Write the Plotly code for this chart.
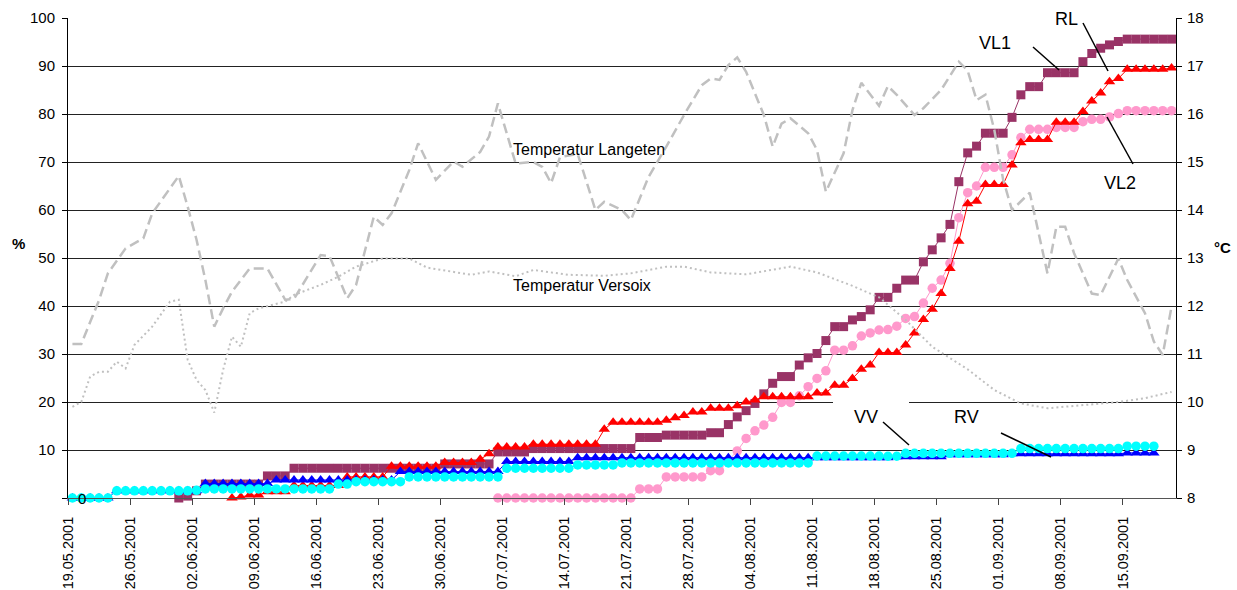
import plotly.graph_objects as go
import pandas as pd

N = None

# ---- categories: one value per day, 19.05.2001 ... 20.09.2001 (125 days) ----
days = pd.date_range("2001-05-19 12:00", periods=125, freq="D")

# ---- cumulative series (%), one value per day ----
vl1 = [
    N, N, N, N, N, N, N, N, N, N,
    N, N, 0, 0.4, 1.5, 2.9, 2.9, 2.9, 2.9, 2.9,
    2.9, 2.9, 4.6, 4.6, 4.6, 6.2, 6.2, 6.2, 6.2, 6.2,
    6.2, 6.2, 6.2, 6.2, 6.2, 6.2, 6.2, 6.2, 6.2, 6.2,
    6.2, 6.2, 7.1, 7.1, 7.1, 7.1, 7.1, 7.1, 9.6, 9.6,
    9.6, 9.6, 10.3, 10.3, 10.3, 10.3, 10.3, 10.3, 10.3, 10.3,
    10.3, 10.3, 10.3, 10.3, 12.6, 12.6, 12.6, 13.1, 13.1, 13.1,
    13.1, 13.1, 13.6, 13.6, 15.3, 16.9, 18.2, 19.7, 21.7, 23.9,
    25.3, 25.3, 27.7, 29.2, 30.1, 32.8, 35.7, 35.7, 37.1, 37.8,
    39.2, 41.8, 41.8, 43.7, 45.4, 45.4, 49.2, 51.7, 54.2, 57.0,
    65.9, 71.9, 73.3, 76.0, 76.0, 76.0, 79.3, 84.0, 85.7, 85.7,
    88.6, 88.6, 88.6, 88.6, 90.9, 92.6, 93.7, 94.4, 95.1, 95.6,
    95.6, 95.6, 95.6, 95.6, 95.6,
]
vl2 = [
    N, N, N, N, N, N, N, N, N, N,
    N, N, N, N, N, N, N, N, N, N,
    N, N, N, N, N, N, N, N, N, N,
    N, N, N, N, N, N, N, N, N, N,
    N, N, N, N, N, N, N, N, 0, 0,
    0, 0, 0, 0, 0, 0, 0, 0, 0, 0,
    0, 0, 0, 0, 1.9, 1.9, 1.9, 4.4, 4.4, 4.4,
    4.4, 4.4, 5.7, 5.7, 7.8, 9.8, 12.4, 14.0, 15.2, 16.8,
    19.9, 19.9, 21.3, 23.2, 24.9, 26.5, 30.8, 30.8, 31.7, 33.75,
    34.4, 35.0, 35.1, 35.8, 37.4, 37.8, 40.6, 43.7, 45.4, 48.9,
    58.4, 63.6, 65.0, 68.9, 68.9, 68.9, 71.5, 75.1, 76.8, 76.8,
    76.8, 77.2, 77.2, 77.2, 78.4, 78.9, 78.9, 79.4, 80.1, 80.7,
    80.7, 80.7, 80.7, 80.7, 80.7,
]
rl = [
    N, N, N, N, N, N, N, N, N, N,
    N, N, N, N, N, N, N, N, 0, 0.2,
    0.6, 0.6, 1.3, 1.3, 1.3, 2.6, 2.6, 2.6, 2.6, 2.6,
    2.6, 4.4, 4.4, 4.4, 4.4, 4.4, 6.6, 6.6, 6.6, 6.6,
    6.6, 6.6, 7.4, 7.4, 7.4, 7.4, 8.05, 9.2, 10.6, 10.6,
    10.6, 10.6, 11.2, 11.2, 11.2, 11.2, 11.2, 11.2, 11.2, 11.2,
    14.3, 15.8, 15.8, 15.8, 15.8, 15.8, 15.8, 16.2, 16.7, 17.2,
    17.9, 17.9, 18.7, 18.7, 18.7, 19.2, 20.0, 20.4, 21.1, 21.1,
    21.1, 21.1, 21.1, 21.1, 21.9, 21.9, 23.5, 23.5, 24.9, 26.8,
    27.7, 30.3, 30.3, 30.3, 31.9, 34.4, 37.2, 39.3, 42.6, 47.8,
    53.5, 61.3, 61.8, 65.3, 65.3, 65.3, 69.4, 74.0, 74.7, 74.7,
    74.7, 78.3, 78.3, 78.3, 80.5, 82.7, 84.4, 86.7, 87.4, 89.3,
    89.3, 89.3, 89.3, 89.3, 89.6,
]
rv = [
    0, 0, 0, 0, 0, 1.5, 1.5, 1.5, 1.5, 1.5,
    1.5, 1.5, 1.5, 1.5, 1.5, 3.0, 3.0, 3.0, 3.0, 3.0,
    3.0, 3.0, 3.0, 3.75, 3.75, 3.75, 3.75, 3.75, 3.75, 3.75,
    3.75, 3.75, 3.75, 3.75, 3.75, 3.75, 3.75, 5.5, 5.5, 5.5,
    5.5, 5.5, 5.5, 5.5, 5.5, 5.5, 5.5, 5.5, 5.5, 7.6,
    7.6, 7.6, 7.6, 7.6, 7.6, 7.6, 7.6, 8.4, 8.4, 8.4,
    8.4, 8.4, 8.4, 8.4, 8.4, 8.4, 8.4, 8.4, 8.4, 8.4,
    8.4, 8.4, 8.4, 8.4, 8.4, 8.4, 8.4, 8.4, 8.4, 8.4,
    8.4, 8.4, 8.4, 8.4, 8.4, 8.4, 8.4, 8.4, 8.4, 8.4,
    8.4, 8.4, 8.4, 8.6, 8.6, 8.6, 8.6, 8.6, 8.6, 9.0,
    9.0, 9.0, 9.0, 9.0, 9.0, 9.0, 9.2, 9.2, 9.2, 9.2,
    9.2, 9.2, 9.2, 9.2, 9.2, 9.2, 9.2, 9.2, 9.2, 9.4,
    9.4, 9.4, 9.4, N, N,
]
vv = [
    0, 0, 0, 0, 0, 1.5, 1.5, 1.5, 1.5, 1.5,
    1.5, 1.5, 1.5, 1.5, 1.6, 1.9, 1.9, 1.9, 1.9, 1.9,
    1.9, 1.9, 1.9, 1.9, 1.9, 1.9, 1.9, 1.9, 1.9, 1.9,
    2.9, 2.9, 3.4, 3.4, 3.4, 3.4, 3.4, 3.4, 4.4, 4.4,
    4.4, 4.4, 4.4, 4.4, 4.4, 4.4, 4.4, 4.4, 4.4, 6.2,
    6.2, 6.2, 6.2, 6.2, 6.2, 6.2, 6.2, 6.9, 6.9, 6.9,
    6.9, 6.9, 7.3, 7.3, 7.3, 7.3, 7.3, 7.3, 7.3, 7.3,
    7.3, 7.3, 7.3, 7.3, 7.3, 7.3, 7.3, 7.3, 7.3, 7.3,
    7.3, 7.3, 7.3, 7.3, 8.75, 8.75, 8.75, 8.75, 8.75, 8.75,
    8.75, 8.75, 8.7, 8.7, 9.3, 9.3, 9.3, 9.3, 9.3, 9.3,
    9.3, 9.3, 9.3, 9.3, 9.3, 9.3, 9.3, 10.3, 10.3, 10.3,
    10.3, 10.3, 10.3, 10.3, 10.3, 10.3, 10.3, 10.3, 10.3, 10.8,
    10.8, 10.8, 10.8, N, N,
]

# ---- temperatures (°C, right axis): day index -> value ----
lang_day = [0, 1, 3, 4, 6, 8, 9, 12, 13, 14, 15, 16, 17, 18, 20, 22, 24, 25, 28, 29,
            31, 32, 34, 35, 36, 38, 39, 41, 43, 44, 46, 47, 48, 50, 52, 53, 54, 55, 57, 59,
            60, 62, 63, 65, 67, 69, 71, 72, 73, 74, 75, 76, 78, 79, 80, 81, 83, 84, 85, 87,
            88, 89, 91, 92, 93, 95, 96, 98, 100, 101, 102, 103, 104, 105, 106, 108, 110, 111, 112, 113,
            115, 116, 118, 119, 121, 122, 123, 124]
lang_t = [11.21, 11.21, 12.12, 12.68, 13.2, 13.41, 13.93, 14.71, 14.07, 13.38, 12.54, 11.57, 11.95, 12.3, 12.78, 12.78, 12.13, 12.15, 13.06, 13.04,
          12.16, 12.44, 13.86, 13.69, 13.93, 14.83, 15.39, 14.63, 15.01, 14.9, 15.21, 15.53, 16.22, 14.97, 15.0, 14.9, 14.56, 15.1, 15.17, 14.0,
          14.17, 14.0, 13.79, 14.69, 15.32, 15.98, 16.6, 16.74, 16.71, 17.02, 17.18, 16.88, 15.98, 15.32, 15.8, 15.91, 15.6, 15.25, 14.38, 15.18,
          16.08, 16.65, 16.17, 16.58, 16.4, 15.98, 16.12, 16.5, 17.09, 16.9, 16.29, 16.4, 15.67, 14.63, 14.0, 14.36, 12.68, 13.65, 13.65, 13.1,
          12.26, 12.23, 12.99, 12.54, 11.85, 11.26, 10.98, 11.99]
vers_day = [0, 1, 2, 3, 4, 5, 6, 7, 9, 11, 12, 13, 14, 15, 16, 17, 18, 19, 20, 21,
            24, 25, 28, 30, 32, 35, 38, 40, 45, 47, 50, 52, 56, 60, 63, 67, 69, 72, 76, 81,
            84, 88, 91, 94, 97, 101, 104, 107, 110, 114, 118, 121, 124]
vers_t = [9.9, 10.0, 10.53, 10.63, 10.63, 10.84, 10.7, 11.19, 11.57, 12.09, 12.13, 10.88, 10.46, 10.25, 9.78, 10.67, 11.36, 11.15, 11.85, 11.95,
          12.09, 12.23, 12.44, 12.61, 12.82, 12.99, 12.99, 12.8, 12.65, 12.72, 12.62, 12.75, 12.65, 12.63, 12.68, 12.82, 12.82, 12.7, 12.66, 12.82,
          12.7, 12.42, 12.18, 11.71, 11.15, 10.68, 10.25, 9.97, 9.87, 9.94, 10.0, 10.08, 10.21]

FONT = "Liberation Sans, Arial, sans-serif"
PURPLE, PINK, RED, BLUE, CYAN, GREY = "#993366", "#FF99CC", "#FF0000", "#0000FF", "#00FFFF", "#C0C0C0"


def series(y, color, symbol, size):
    return go.Scatter(x=days, y=y, mode="lines+markers", cliponaxis=False,
                      line=dict(color=color, width=1),
                      marker=dict(symbol=symbol, size=size, color=color, line=dict(width=0)),
                      hoverinfo="skip")


fig = go.Figure()
fig.add_trace(series(vl1, PURPLE, "square", 9))
fig.add_trace(series(vl2, PINK, "circle", 9.5))
fig.add_trace(series(rl, RED, "triangle-up", 10))
fig.add_trace(series(rv, BLUE, "triangle-up", 10))
fig.add_trace(series(vv, CYAN, "circle", 9.5))
fig.add_trace(go.Scatter(x=[days[i] for i in lang_day], y=lang_t, yaxis="y2", mode="lines",
                         line=dict(color=GREY, width=2.5, dash="10px,5px"), hoverinfo="skip"))
fig.add_trace(go.Scatter(x=[days[i] for i in vers_day], y=vers_t, yaxis="y2", mode="lines",
                         line=dict(color=GREY, width=2, dash="2px,3px"), hoverinfo="skip"))

# plot-area geometry of the reference (pixels) used to place labels
L, R, T, B = 68, 1176, 18, 498


def px(x):
    return (x - L) / (R - L)


def py(y):
    return (B - y) / (B - T)


labels = [
    ("Temperatur Langeten", 589, 149, 16),
    ("Temperatur Versoix", 582, 285, 16),
    ("VL1", 995, 43, 18),
    ("RL", 1066, 19, 18),
    ("VL2", 1120, 183, 18),
    ("VV", 866, 417, 18),
    ("RV", 966, 417, 18),
    ("0", 82, 498, 15),
    ("<b>%</b>", 18, 243, 15),
    ("<b>°C</b>", 1222, 248, 15),
]
annotations = [dict(text=t, x=px(x), y=py(y), xref="paper", yref="paper", showarrow=False,
                    xanchor="center", yanchor="middle", font=dict(family=FONT, size=s, color="black"))
               for t, x, y, s in labels]

leaders = [(1033, 47, 1059, 70), (1083, 23, 1108, 71), (1107, 117, 1133, 164),
           (883, 422, 909, 445), (1001, 433, 1051, 457)]
shapes = [dict(type="rect", xref="paper", yref="paper", x0=px(833), x1=px(909), y0=py(438), y1=py(396),
               fillcolor="white", line=dict(width=0), layer="above")]
shapes += [dict(type="line", xref="paper", yref="paper", x0=px(a), y0=py(b), x1=px(c), y1=py(d),
                line=dict(color="black", width=1.5), layer="above") for a, b, c, d in leaders]

fig.update_layout(
    width=1237, height=590, template="none", showlegend=False,
    margin=dict(l=L, r=1237 - R, t=T, b=590 - B, autoexpand=False),
    paper_bgcolor="white", plot_bgcolor="white",
    font=dict(family=FONT, size=15, color="black"),
    xaxis=dict(type="date", range=["2001-05-19", "2001-09-21"], tick0="2001-05-19",
               dtick=7 * 86400000, tickformat="%d.%m.%Y", tickangle=-90,
               ticks="outside", ticklen=6, tickcolor="#444", ticklabelstandoff=6,
               showline=True, linecolor="#555", linewidth=1, showgrid=False, zeroline=False,
               automargin=False, tickfont=dict(family=FONT, size=14.5)),
    yaxis=dict(range=[0, 100], tickvals=list(range(0, 101, 10)),
               ticktext=[""] + [str(v) for v in range(10, 101, 10)],
               ticks="outside", ticklen=5, tickcolor="black", ticklabelstandoff=4,
               showline=True, linecolor="black", linewidth=1,
               showgrid=True, gridcolor="#222", gridwidth=1, zeroline=False, automargin=False,
               tickfont=dict(family=FONT, size=15)),
    yaxis2=dict(range=[8, 18], tickvals=list(range(8, 19)), overlaying="y", side="right",
                ticks="outside", ticklen=5, tickcolor="black", ticklabelstandoff=2,
                showline=True, linecolor="black", linewidth=1,
                showgrid=False, zeroline=False, automargin=False,
                tickfont=dict(family=FONT, size=15)),
    annotations=annotations, shapes=shapes,
)

fig.write_html("out.html", config={"displayModeBar": False},
               post_script="document.body.style.margin='0';document.body.style.overflow='hidden';")
